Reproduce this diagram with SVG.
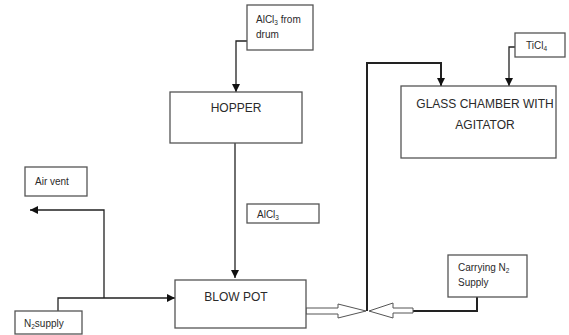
<svg xmlns="http://www.w3.org/2000/svg" width="569" height="335" viewBox="0 0 569 335">
<defs>
<marker id="ah" viewBox="0 0 10 10" refX="10" refY="5" markerWidth="8" markerHeight="8" markerUnits="userSpaceOnUse" orient="auto">
<path d="M0,0 L10,5 L0,10 z" fill="#111"/>
</marker>
</defs>
<style>
.box{fill:#fff;stroke:#555;stroke-width:1.3}
.ln{fill:none;stroke:#222;stroke-width:1.3}
.thk{fill:none;stroke:#222;stroke-width:2}
.hol{fill:#fff;stroke:#555;stroke-width:1}
.big{font-family:"Liberation Sans",Arial,sans-serif;font-size:12px;fill:#2a2a2a}
.sm{font-family:"Liberation Sans",Arial,sans-serif;font-size:10px;fill:#2a2a2a}
</style>
<rect width="569" height="335" fill="#fff"/>
<g id="connectors">
<path class="ln" d="M247,41 H236 V92" marker-end="url(#ah)"/>
<path class="ln" d="M235,142 V278" marker-end="url(#ah)"/>
<path class="ln" d="M515,47 H509 V86" marker-end="url(#ah)"/>
<path class="thk" d="M367,311 V63 H441 V86" marker-end="url(#ah)"/>
<path class="ln" d="M104,298 V210 H30" marker-end="url(#ah)"/>
<path class="ln" d="M58,311 V298 H175" marker-end="url(#ah)"/>
<path class="thk" d="M477,297 V311 H413"/>
<path class="hol" d="M306,308 H338 V304 L366,311 L338,318 V314 H306 z"/>
<path class="hol" d="M413,308 H393 V303 L369,311 L393,318 V313 H413 z"/>
</g>
<g id="alcl3_drum">
<rect class="box" x="247" y="5" width="66" height="45"/>
<text class="sm" x="256" y="23">AlCl<tspan font-size="6.5" dy="2">3</tspan><tspan dy="-2"> from</tspan></text>
<text class="sm" x="256" y="38">drum</text>
</g>
<g id="hopper">
<rect class="box" x="170" y="92" width="132" height="51"/>
<text class="big" x="236" y="112" text-anchor="middle">HOPPER</text>
</g>
<g id="alcl3">
<rect class="box" x="247" y="204" width="72" height="19"/>
<text class="sm" x="257" y="218">AlCl<tspan font-size="6.5" dy="2">3</tspan></text>
</g>
<g id="blowpot">
<rect class="box" x="175" y="280" width="131" height="48"/>
<text class="big" x="236" y="301" text-anchor="middle">BLOW POT</text>
</g>
<g id="ticl4">
<rect class="box" x="515" y="33" width="50" height="24"/>
<text class="sm" x="526" y="49">TiCl<tspan font-size="6.5" dy="2">4</tspan></text>
</g>
<g id="glasschamber">
<rect class="box" x="401" y="86" width="155" height="72"/>
<text class="big" x="485" y="108" text-anchor="middle">GLASS CHAMBER WITH</text>
<text class="big" x="485" y="129" text-anchor="middle">AGITATOR</text>
</g>
<g id="airvent">
<rect class="box" x="25" y="167" width="62" height="29"/>
<text class="sm" x="35" y="185">Air vent</text>
</g>
<g id="n2supply">
<rect class="box" x="15" y="311" width="67" height="23"/>
<text class="sm" x="24" y="327">N<tspan font-size="6.5" dy="2">2</tspan><tspan dy="-2">supply</tspan></text>
</g>
<g id="carrying">
<rect class="box" x="448" y="255" width="79" height="42"/>
<text class="sm" x="458" y="271">Carrying N<tspan font-size="6.5" dy="2">2</tspan></text>
<text class="sm" x="458" y="286">Supply</text>
</g>
</svg>
